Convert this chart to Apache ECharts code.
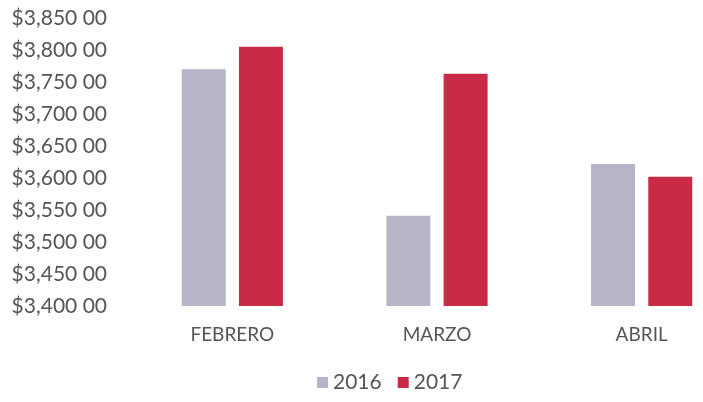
<!DOCTYPE html>
<html>
<head>
<meta charset="utf-8">
<script src="https://cdn.jsdelivr.net/npm/echarts@6/dist/echarts.min.js"></script>
<style>
    html, body { margin: 0; padding: 0; background: #fff; overflow: hidden; }
    /* canvas is wider than the window: the original is cropped on the right */
    #chart { width: 745px; height: 402px; }
</style>
</head>
<body>
<div id="chart"></div>
<script>
/* ===== data ===== */
const months = ["FEBRERO", "MARZO", "ABRIL"];
const years = ["2016", "2017"];
const values2016 = [3770, 3541, 3622];
const values2017 = [3805, 3763, 3602];
const colors = ["#b6b4c6", "#c92a45"];

function fmtMoney(v) {
    return "$" + Math.round(v).toLocaleString("en-US") + " 00";
}

const chart = echarts.init(document.getElementById("chart"));
chart.setOption({
    animation: false,
    textStyle: { fontFamily: "Lato, 'Open Sans', sans-serif" },
    grid: { left: 130, right: 1, top: 18, bottom: 96 },
    legend: {
        bottom: 4, left: 312,
        itemWidth: 11, itemHeight: 11, itemGap: 16,
        icon: "rect",
        textStyle: { fontSize: 21, color: "#555" },
        data: years
    },
    xAxis: {
        type: "category", data: months,
        axisLine: { show: false }, axisTick: { show: false },
        axisLabel: { fontSize: 19, color: "#555", margin: 19 }
    },
    yAxis: {
        type: "value", min: 3400, max: 3850, interval: 50,
        splitLine: { show: false }, axisLine: { show: false }, axisTick: { show: false },
        axisLabel: { fontSize: 21, color: "#555", margin: 23, formatter: fmtMoney }
    },
    series: [
        { name: years[0], type: "bar", data: values2016, barWidth: 44, barGap: "30%", itemStyle: { color: colors[0] } },
        { name: years[1], type: "bar", data: values2017, barWidth: 44, itemStyle: { color: colors[1] } }
    ]
});
</script>
</body>
</html>
